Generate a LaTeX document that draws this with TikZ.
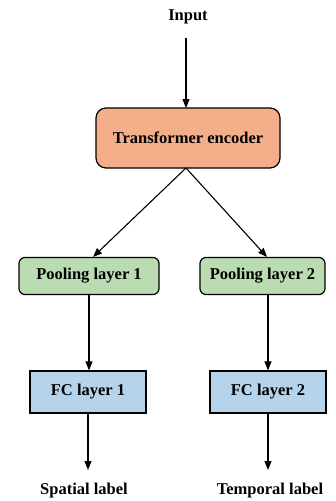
\documentclass[tikz,border=0pt]{standalone}
\usepackage{fontspec}
\setmainfont{Liberation Serif}
\usetikzlibrary{arrows.meta}
\definecolor{tfill}{HTML}{F4AE8A}
\definecolor{pfill}{HTML}{BBDBB3}
\definecolor{ffill}{HTML}{B5D3EB}
\tikzset{
  every node/.style={font=\bfseries\fontsize{16.5}{18}\selectfont},
  boxbase/.style={draw=black, line width=1.2pt, inner sep=0pt},
  tbox/.style={boxbase, fill=tfill, rounded corners=10pt, minimum width=184pt, minimum height=60pt},
  pbox/.style={boxbase, fill=pfill, rounded corners=6pt, minimum height=37pt},
  fbox/.style={boxbase, fill=ffill, minimum width=116pt, minimum height=42pt},
  conn/.style={line width=1.1pt, -{Triangle[width=7pt,length=9pt]}},
  lbl/.style={inner sep=0pt}
}
\begin{document}
\begin{tikzpicture}[x=1pt,y=-1pt]
\useasboundingbox (0,0) rectangle (335,501);
\node[lbl] (in) at (188,17) {Input};
\coordinate (inS) at (186,38);
\node[tbox] (te) at (188,138) {Transformer encoder};
\node[pbox, minimum width=140pt] (p1) at (89,276) {Pooling layer 1};
\node[pbox, minimum width=125pt] (p2) at (262.5,276) {Pooling layer 2};
\node[fbox] (f1) at (88,392) {FC layer 1};
\node[fbox] (f2) at (268,392) {FC layer 2};
\node[lbl] (s) at (84,491) {Spatial label};
\node[lbl] (t) at (270,491) {Temporal label};
\coordinate (teB) at (186,168);
\coordinate (f1E) at (88,470);
\coordinate (f2E) at (268,470);
\draw[conn] (inS) -- (186,108);
\draw[conn] (teB) -- (93,257);
\draw[conn] (teB) -- (267,257);
\draw[conn] (p1.south -| 89,0) -- (f1.north -| 89,0);
\draw[conn] (p2.south -| 268,0) -- (f2.north -| 268,0);
\draw[conn] (f1.south) -- (f1E);
\draw[conn] (f2.south) -- (f2E);
\end{tikzpicture}
\end{document}
